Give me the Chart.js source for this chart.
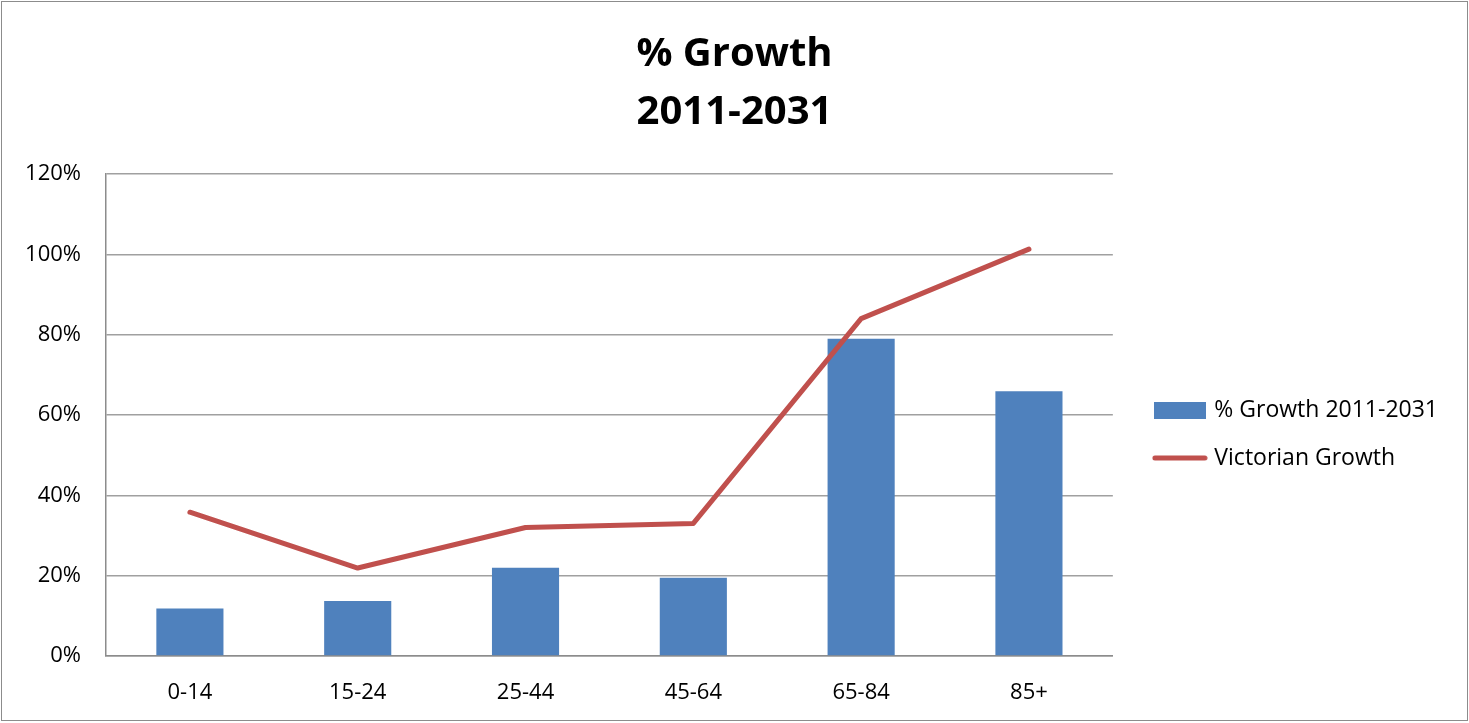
<!DOCTYPE html>
<html>
<head>
<meta charset="utf-8">
<script src="https://cdn.jsdelivr.net/npm/chart.js@4.4.1/dist/chart.umd.min.js"></script>
<style>
  html, body { margin: 0; padding: 0; background: #fff; }
  #frame {
    position: absolute; left: 1px; top: 1px;
    width: 1467px; height: 720px;
    border: 1px solid #8c8c8c; box-sizing: border-box;
  }
</style>
</head>
<body>
<div id="frame"><canvas id="growthChart"></canvas></div>
<script>
// data (percent)
const ageGroups = ['0-14', '15-24', '25-44', '45-64', '65-84', '85+'];
const localGrowth = [11.8, 13.7, 22.0, 19.5, 79.0, 65.9];
const victorianGrowth = [35.8, 21.9, 32.0, 33.0, 84.0, 101.3];
const yTicks = [0, 20, 40, 60, 80, 100, 120];

const blue = '#4f81bd';
const red = '#c0504d';
const fontFamily = '"Open Sans", sans-serif';

// small canvases used as legend markers (wide box / thick line)
function makeMarker(w, h, draw) {
    const c = document.createElement('canvas');
    c.width = w;
    c.height = h;
    draw(c.getContext('2d'));
    return c;
}
const barMarker = makeMarker(52, 17, ctx => {
    ctx.fillStyle = blue;
    ctx.fillRect(0, 0, 52, 17);
});
const lineMarker = makeMarker(56, 8, ctx => {
    ctx.strokeStyle = red;
    ctx.lineWidth = 5;
    ctx.lineCap = 'round';
    ctx.beginPath();
    ctx.moveTo(3, 4);
    ctx.lineTo(53, 4);
    ctx.stroke();
});

// move the legend a bit away from the plot and down, like the reference,
// and keep the title centred on the whole canvas
const layoutNudge = {
    id: 'layoutNudge',
    afterLayout(chart) {
        const lg = chart.legend;
        const dx = chart.chartArea.right + 19 - lg.left;
        const dy = 73;
        lg.left += dx; lg.right += dx;
        lg.top += dy; lg.bottom += dy;

        chart.titleBlock.left = 0;
        chart.titleBlock.right = chart.width;
    }
};

new Chart(document.getElementById('growthChart'), {
    data: {
        labels: ageGroups,
        datasets: [{
            type: 'line',
            label: 'Victorian Growth',
            data: victorianGrowth,
            borderColor: red,
            backgroundColor: red,
            borderWidth: 5,
            borderCapStyle: 'round',
            borderJoinStyle: 'round',
            pointRadius: 0,
            tension: 0,
            order: 0
        }, {
            type: 'bar',
            label: '% Growth 2011-2031',
            data: localGrowth,
            backgroundColor: blue,
            barPercentage: 0.4,
            categoryPercentage: 1,
            order: 1
        }]
    },
    options: {
        responsive: true,
        maintainAspectRatio: false,
        animation: false,
        layout: { padding: { left: 0, right: 38, top: 0, bottom: 0 } },
        plugins: {
            title: {
                display: true,
                text: ['% Growth', '2011-2031'],
                color: '#000',
                font: { family: fontFamily, size: 40, weight: 'bold', lineHeight: 1.45 },
                padding: { top: 24, bottom: 32 }
            },
            legend: {
                position: 'right',
                labels: {
                    color: '#000',
                    font: { family: fontFamily, size: 23 },
                    usePointStyle: true,
                    pointStyleWidth: 46,
                    padding: 25,
                    generateLabels(chart) {
                        // bar first, line second, as in the reference
                        return [1, 0].map(i => {
                            const ds = chart.data.datasets[i];
                            return {
                                text: ds.label,
                                datasetIndex: i,
                                fillStyle: ds.type === 'bar' ? blue : red,
                                strokeStyle: 'transparent',
                                lineWidth: 0,
                                pointStyle: ds.type === 'bar' ? barMarker : lineMarker,
                                fontColor: '#000'
                            };
                        });
                    }
                }
            },
            tooltip: { enabled: false }
        },
        scales: {
            x: {
                grid: { display: false, drawTicks: false },
                border: { display: true, color: '#8c8c8c', width: 1.5 },
                ticks: { color: '#000', font: { family: fontFamily, size: 22 }, padding: 24 },
                afterFit(scale) { scale.height = 64; }
            },
            y: {
                min: 0,
                max: 120,
                afterBuildTicks(scale) {
                    scale.ticks = yTicks.map(v => ({ value: v }));
                },
                grid: { color: '#a0a0a0', lineWidth: 1.5, drawTicks: false },
                border: { display: true, color: '#8c8c8c', width: 1.5 },
                ticks: {
                    color: '#000',
                    font: { family: fontFamily, size: 22 },
                    padding: 25,
                    callback: v => v + '%'
                },
                afterFit(scale) { scale.width = 104; }
            }
        }
    },
    plugins: [layoutNudge]
});
</script>
</body>
</html>
